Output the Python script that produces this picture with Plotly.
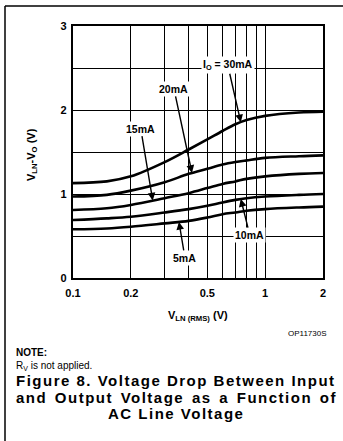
import numpy as np
import plotly.graph_objects as go

# ---- data ----
v_ln = [0.1, 0.15, 0.2, 0.3, 0.4, 0.5, 0.6, 0.7, 0.8, 1.0, 1.5, 2.0]
drop_30mA = [1.13, 1.15, 1.21, 1.38, 1.53, 1.65, 1.75, 1.83, 1.88, 1.93, 1.97, 1.98]
drop_20mA = [0.97, 0.99, 1.04, 1.14, 1.24, 1.30, 1.35, 1.38, 1.40, 1.43, 1.45, 1.46]
drop_15mA = [0.81, 0.83, 0.87, 0.95, 1.01, 1.07, 1.12, 1.15, 1.18, 1.21, 1.24, 1.25]
drop_10mA = [0.69, 0.71, 0.73, 0.78, 0.82, 0.86, 0.90, 0.93, 0.95, 0.97, 0.99, 1.00]
drop_5mA = [0.58, 0.59, 0.61, 0.65, 0.68, 0.72, 0.76, 0.78, 0.80, 0.82, 0.84, 0.85]

x_grid = [0.1, 0.2, 0.3, 0.4, 0.5, 0.6, 0.7, 0.8, 0.9, 1.0, 2.0]
x_labels = {0.1: "0.1", 0.2: "0.2", 0.5: "0.5", 1.0: "1", 2.0: "2"}
y_grid = [0, 0.5, 1, 1.5, 2, 2.5, 3]
y_labels = {0: "0", 1: "1", 2: "2", 3: "3"}

series = [
    ("I<sub>O</sub> = 30mA", drop_30mA, 0.747, -13, -57),
    ("20mA", drop_20mA, 0.416, -18, -84),
    ("15mA", drop_15mA, 0.26, -12, -72),
    ("10mA", drop_10mA, 0.747, 9, 36),
    ("5mA", drop_5mA, 0.356, 6, 36),
]

title_lines = ["Figure 8. Voltage Drop Between Input",
               "and Output Voltage as a Function of",
               "AC Line Voltage"]

FONT = "Liberation Sans, Arial, Helvetica, sans-serif"

fig = go.Figure()
for name, ys, _, _, _ in series:
    fig.add_trace(go.Scatter(x=v_ln, y=ys, mode="lines", line=dict(color="black", width=2.6, shape="spline"),
                             name=name, showlegend=False, hoverinfo="skip"))

lx = np.log10(v_ln)
for name, ys, xt, ax, ay in series:
    yt = float(np.interp(np.log10(xt), lx, ys))
    fig.add_annotation(x=np.log10(xt), y=yt, xref="x", yref="y", text="<b>%s</b>" % name,
                       showarrow=True, ax=ax, ay=ay, arrowhead=2, arrowsize=1.1, arrowwidth=1.4,
                       arrowcolor="black", standoff=0, bgcolor="white", borderpad=1,
                       font=dict(family=FONT, size=10.5, color="black"))

fig.update_xaxes(type="log", range=[np.log10(0.1), np.log10(2.0)],
                 tickvals=x_grid, ticktext=["<b>%s</b>" % x_labels.get(v, "") for v in x_grid],
                 showgrid=True, gridcolor="black", gridwidth=1.2,
                 showline=True, linecolor="black", linewidth=2.2, mirror=True,
                 ticks="", tickangle=0, automargin=False, ticklabelstandoff=4,
                 tickfont=dict(family=FONT, size=11, color="black"),
                 zeroline=False)
fig.update_yaxes(range=[0, 3], tickvals=y_grid, ticktext=["<b>%s</b>" % y_labels.get(v, "") for v in y_grid],
                 showgrid=True, gridcolor="black", gridwidth=1.2,
                 showline=True, linecolor="black", linewidth=2.2, mirror=True,
                 ticks="", automargin=False, ticklabelstandoff=2,
                 tickfont=dict(family=FONT, size=11, color="black"),
                 zeroline=False)

def px_to_paper(px, py):
    return (px - 73) / 250.0, (278 - py) / 252.0

def note(text, px, py, size, xanchor="center", angle=0, **kw):
    x, y = px_to_paper(px, py)
    fig.add_annotation(text=text, xref="paper", yref="paper", x=x, y=y, xanchor=xanchor, yanchor="middle",
                       textangle=angle, showarrow=False, font=dict(family=FONT, size=size, color="black"), **kw)

note("<b>V<sub>LN</sub>-V<sub>O</sub> (V)</b>", 32, 155, 11, angle=-90)
note("<b>V<sub>LN (RMS)</sub> (V)</b>", 198, 316, 11)
note("OP11730S", 329, 333, 8, xanchor="right")
note("<b>NOTE:</b>", 14, 352, 10, xanchor="left")
note("R<sub>V</sub> is not applied.", 14, 366, 10, xanchor="left")
note('<b><span style="letter-spacing:1.5px">%s</span></b>' % title_lines[0], 176, 380, 15)
note('<b><span style="letter-spacing:1.5px;word-spacing:2px">%s</span></b>' % title_lines[1], 176, 397, 15)
note('<b><span style="letter-spacing:1.5px">%s</span></b>' % title_lines[2], 176, 414, 15)

# page frame (left and top rule)
x0, y0 = px_to_paper(5, 6)
x1, y1 = px_to_paper(345, 445)
fig.add_shape(type="line", xref="paper", yref="paper", x0=x0, x1=x0, y0=y0, y1=y1,
              line=dict(color="black", width=1.5))
fig.add_shape(type="line", xref="paper", yref="paper", x0=x0, x1=x1, y0=y0, y1=y0,
              line=dict(color="black", width=1.5))

fig.update_layout(width=343, height=441, autosize=False, template="none",
                  margin=dict(l=73, r=20, t=26, b=163, pad=0),
                  paper_bgcolor="white", plot_bgcolor="white",
                  font=dict(family=FONT, color="black"))

fig.write_html("out.html", config={"displayModeBar": False},
               post_script="document.body.style.margin='0';document.body.style.overflow='hidden';")
